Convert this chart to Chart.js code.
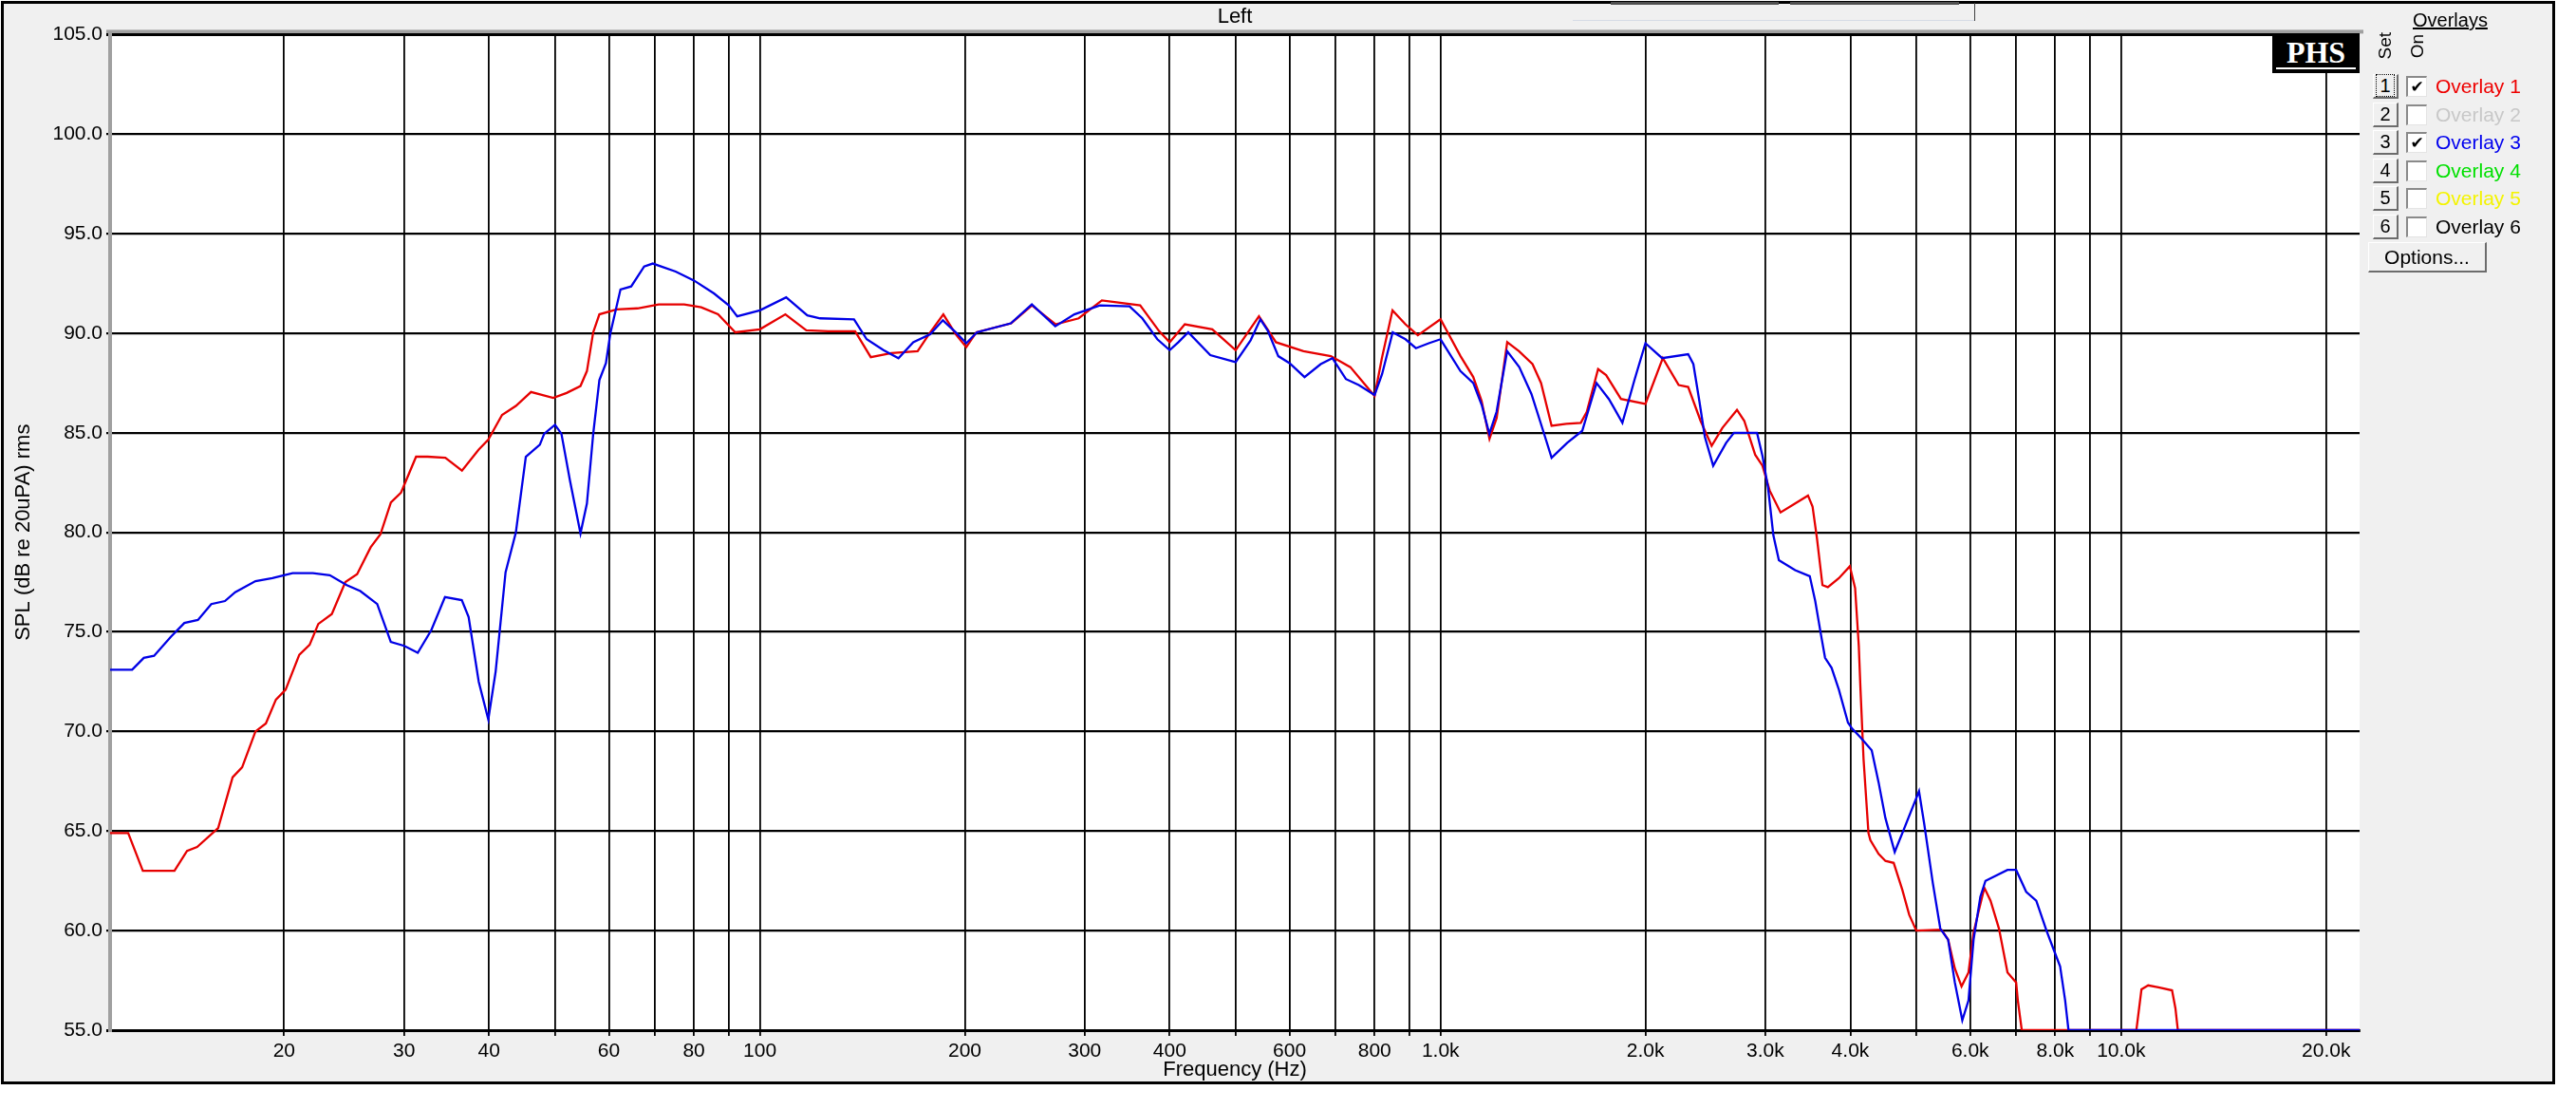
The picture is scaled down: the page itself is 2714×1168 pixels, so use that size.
<!DOCTYPE html>
<html>
<head>
<meta charset="utf-8">
<title>Left</title>
<script src="https://cdn.jsdelivr.net/npm/chart.js@4.4.1/dist/chart.umd.min.js"></script>
<style>
  html, body { margin: 0; padding: 0; background: #fff; }
  #wrap { position: relative; width: 2714px; height: 1168px; overflow: hidden;
          font-family: "Liberation Sans", Arial, sans-serif; }
  #splChart { position: absolute; left: 0; top: 0; }
  .abs { position: absolute; white-space: nowrap; }
  .btn { box-sizing: border-box; background: #f0f0f0; color: #000;
         border-top: 1px solid #fff; border-left: 1px solid #fff;
         border-right: 2px solid #6c6c6c; border-bottom: 2px solid #6c6c6c;
         text-align: center; }
  .chk { box-sizing: border-box; background: #fff; width: 22px; height: 22px;
         border-top: 2px solid #8a8a8a; border-left: 2px solid #8a8a8a;
         border-right: 1px solid #e4e4e4; border-bottom: 1px solid #e4e4e4;
         font: bold 17px "DejaVu Sans", sans-serif; line-height: 19px; text-align: center; }
  .vert { writing-mode: vertical-rl; transform: rotate(180deg); font-size: 19px; }
</style>
</head>
<body>
<div id="wrap">
  <canvas id="splChart" width="2714" height="1168"></canvas>

  <!-- bits of the window chrome at the top -->
  <div class="abs" style="left:1697px;top:2px;width:177px;height:3px;background:#505050"></div>
  <div class="abs" style="left:1886px;top:2px;width:178px;height:3px;background:#505050"></div>
  <div class="abs" style="left:1657px;top:21px;width:423px;height:1px;background:#d6dbe6"></div>
  <div class="abs" style="left:2080px;top:3px;width:1px;height:19px;background:#404040"></div>

  <div class="abs" style="left:2394px;top:37px;width:92px;height:40px;background:#000;color:#fff;
       font:bold 32px 'Liberation Serif','DejaVu Serif',serif;text-align:center;line-height:36px">PHS</div>
  <div class="abs" style="left:2398px;top:71px;width:84px;height:2px;background:#fff"></div>

  <div class="abs" style="left:2542px;top:10px;font-size:20px;text-decoration:underline">Overlays</div>
  <div class="abs vert" style="left:2502px;top:34px">Set</div>
  <div class="abs vert" style="left:2536px;top:36px">On</div>
  <div id="rows"></div>
  <div class="abs btn" style="left:2495px;top:255px;width:125px;height:32px;font-size:21px;line-height:29px">Options...</div>
</div>

<script>
// x axis (Hz)
var freqMin = 11.1;
var freqMax = 22400;
var xGridFreqs = [20, 30, 40, 50, 60, 70, 80, 90, 100, 200, 300, 400, 500, 600, 700, 800, 900,
                  1000, 2000, 3000, 4000, 5000, 6000, 7000, 8000, 9000, 10000, 20000];
var xLabelFreqs = [20, 30, 40, 60, 80, 100, 200, 300, 400, 600, 800, 1000, 2000, 3000, 4000, 6000, 8000, 10000, 20000];
var xLabelText = ['20', '30', '40', '60', '80', '100', '200', '300', '400', '600', '800',
                  '1.0k', '2.0k', '3.0k', '4.0k', '6.0k', '8.0k', '10.0k', '20.0k'];
// y axis (dB)
var yTicks = [55, 60, 65, 70, 75, 80, 85, 90, 95, 100, 105];

// Overlay 1 (red)
var freq1 = [11.1, 11.8, 12.4, 13.8, 14.4, 14.9, 16.0, 16.8, 17.35, 18.15, 18.8, 19.45, 20.1, 21.05, 21.8,
  22.45, 23.5, 24.6, 25.6, 26.8, 27.7, 28.7, 29.7, 31.25, 32.5, 34.5, 36.5, 38.6, 39.9, 41.8, 43.8, 46.1,
  49.7, 52.0, 54.5, 55.7, 56.9, 58.1, 61.6, 66.1, 71, 77.4, 82, 86.8, 92, 100, 109, 117, 126, 138, 145.5,
  156, 170.5, 178, 186, 194, 201, 208, 234, 251, 272, 294, 318, 362, 386, 400, 421, 462, 500, 541, 573,
  629, 690, 737, 800, 820, 850, 888, 926, 1000, 1070, 1117, 1149, 1180, 1209, 1253, 1304, 1365, 1405,
  1456, 1530, 1607, 1640, 1704, 1751, 1841, 2000, 2121, 2238, 2311, 2410, 2502, 2595, 2726, 2794, 2899,
  2971, 3045, 3159, 3319, 3466, 3520, 3573, 3640, 3707, 3848, 3993, 4065, 4116, 4140, 4183, 4253, 4280,
  4401, 4504, 4632, 4769, 4881, 5000, 5443, 5568, 5696, 5827, 5966, 6069, 6176, 6295, 6428, 6614, 6807,
  7009, 7049, 7144, 10527, 10710, 10957, 11344, 11877, 12014, 12112, 22400];
var spl1 = [64.9, 64.9, 63.0, 63.0, 64.0, 64.2, 65.15, 67.7, 68.2, 70.0, 70.4, 71.6, 72.1, 73.85, 74.35,
  75.4, 75.9, 77.5, 77.9, 79.25, 79.9, 81.5, 82.0, 83.8, 83.8, 83.75, 83.1, 84.15, 84.65, 85.9, 86.35, 87.05,
  86.75, 87.0, 87.35, 88.1, 90.05, 90.95, 91.2, 91.25, 91.45, 91.45, 91.3, 90.95, 90.05, 90.2, 90.95, 90.15, 90.1, 90.1, 88.8,
  89.0, 89.1, 90.05, 90.95, 89.95, 89.3, 90.05, 90.5, 91.4, 90.45, 90.75, 91.65, 91.4, 90.1, 89.55, 90.45, 90.2, 89.15, 90.85, 89.55,
  89.1, 88.85, 88.3, 86.85, 88.75, 91.15, 90.45, 89.9, 90.7, 88.85, 87.8, 86.6, 84.7, 85.75, 89.55, 89.1, 88.45, 87.5,
  85.35, 85.45, 85.5, 86.05, 88.2, 87.9, 86.7, 86.45, 88.75, 87.4, 87.3, 85.6, 84.35, 85.25, 86.15, 85.6, 83.9,
  83.35, 82.1, 81.0, 81.45, 81.85, 81.3, 79.7, 77.35, 77.25, 77.7, 78.3, 77.2, 74.3, 72.1, 68.6, 64.9, 64.55,
  63.85, 63.5, 63.4, 62.05, 60.8, 60.0, 60.05, 59.55, 58.1, 57.2, 57.9, 59.9, 61.0, 62.15, 61.5, 60.1, 57.9,
  57.4, 56.5, 55.0, 55.0, 57.05, 57.25, 57.15, 57.0, 56.1, 55.0, 55.0];

// Overlay 3 (blue)
var freq3 = [11.1, 11.96, 12.44, 12.88, 13.63, 14.27, 14.94, 15.63, 16.37, 16.95, 18.15, 19.22, 20.58, 22.04,
  23.34, 24.72, 25.88, 27.4, 28.69, 30.03, 31.43, 32.91, 34.46, 36.48, 37.33, 38.63, 39.9, 40.9, 42.3, 43.8,
  45.3, 47.5, 48.2, 50.0, 51.1, 52.6, 54.5, 55.7, 56.9, 58.1, 59.4, 60.3, 62.4, 64.7, 67.6, 69.6, 75.2, 80,
  85.6, 90, 92.6, 100, 109.3, 117.4, 122.6, 137.5, 143.5, 151.9, 159.8, 168, 177.9, 185.7, 193.9, 201, 208.4,
  233.7, 250.9, 271.6, 289.7, 315.8, 349.2, 364.6, 383.6, 400, 412, 425.9, 458.9, 500, 526, 543.6, 557,
  577.6, 600, 631.2, 666.6, 693.5, 726, 758.3, 800, 820.6, 850.5, 888, 920, 961, 1000, 1069.6, 1117, 1149.4,
  1179.5, 1208.6, 1252.6, 1305, 1360, 1415, 1456, 1535, 1615, 1695, 1767, 1795, 1850, 1927, 2000, 2116,
  2311, 2352, 2400, 2445, 2515, 2628, 2698, 2917, 2971, 3028, 3083, 3141, 3319, 3487, 3552, 3618, 3672,
  3754, 3848, 3968, 4023, 4141, 4300, 4401, 4504, 4648, 4796, 5046, 5139, 5287, 5423, 5568, 5696, 5842,
  5966, 6069, 6210, 6318, 6807, 7009, 7251, 7503, 7767, 7947, 8133, 8273, 8367, 22400];
var spl3 = [73.1, 73.1, 73.7, 73.8, 74.75, 75.45, 75.6, 76.4, 76.55, 77.0, 77.55, 77.7, 77.95, 77.95,
  77.85, 77.35, 77.05, 76.4, 74.5, 74.3, 73.95, 75.1, 76.75, 76.6, 75.75, 72.5, 70.6, 73.0, 78.0, 80.0,
  83.8, 84.4, 84.95, 85.4, 84.95, 82.6, 79.95, 81.45, 84.95, 87.65, 88.5, 90.0, 92.2, 92.35, 93.35, 93.5, 93.1, 92.65,
  92.0, 91.4, 90.85, 91.15, 91.8, 90.9, 90.75, 90.7, 89.7, 89.15, 88.75, 89.55, 89.95, 90.65, 90.05, 89.5, 90.05,
  90.5, 91.45, 90.35, 90.95, 91.4, 91.35, 90.75, 89.7, 89.15, 89.55, 90.05, 88.9, 88.55, 89.65, 90.7, 90.15,
  88.85, 88.5, 87.8, 88.45, 88.75, 87.7, 87.4, 86.9, 87.95, 90.05, 89.7, 89.25, 89.5, 89.7, 88.1, 87.5, 86.4,
  84.95, 86.05, 89.1, 88.3, 86.95, 85.1, 83.75, 84.5, 85.1, 87.5, 86.7, 86.3, 85.5, 87.65, 89.5, 88.75,
  88.95, 88.45, 86.6, 84.8, 83.35, 84.5, 85.0, 85.0, 83.85, 82.25, 79.85, 78.6, 78.1, 77.8, 76.55, 74.95, 73.7,
  73.2, 72.1, 70.45, 70.15, 69.7, 69.05, 67.45, 65.65, 63.95, 65.1, 67.0, 65.3, 62.4, 60.1, 59.55, 57.4, 55.5,
  56.5, 59.55, 61.7, 62.5, 63.05, 63.05, 61.95, 61.5, 60.0, 59.1, 58.2, 56.5, 55.0, 55.0];

// right-hand overlay panel
var overlayNames = ['Overlay 1', 'Overlay 2', 'Overlay 3', 'Overlay 4', 'Overlay 5', 'Overlay 6'];
var overlayColors = ['#ee0000', '#c8c8c8', '#0000ee', '#00e000', '#f4f400', '#000000'];
var overlayOn = [true, false, true, false, false, false];

function toPoints(xs, ys) {
    return xs.map(function (x, i) { return { x: x, y: ys[i] }; });
}

function buildPanel() {
    var rows = document.getElementById('rows');
    overlayNames.forEach(function (name, i) {
        var top = 78 + i * 29.5;
        var b = document.createElement('div');
        b.className = 'abs btn';
        b.style.cssText = 'left:2500px;top:' + top + 'px;width:27px;height:26px;font-size:20px;line-height:23px';
        if (i === 0) {
            b.innerHTML = '<span style="outline:1px dotted #000;padding:0 3px">' + (i + 1) + '</span>';
        } else {
            b.textContent = String(i + 1);
        }
        rows.appendChild(b);

        var c = document.createElement('div');
        c.className = 'abs chk';
        c.style.left = '2535px';
        c.style.top = (top + 2) + 'px';
        c.textContent = overlayOn[i] ? '\u2714' : '';
        rows.appendChild(c);

        var t = document.createElement('div');
        t.className = 'abs';
        t.style.cssText = 'left:2566px;top:' + (top + 1) + 'px;font-size:21px;color:' + overlayColors[i];
        t.textContent = name;
        rows.appendChild(t);
    });
}

// background, white plot area, frame
var framePlugin = {
    id: 'frame',
    beforeDraw: function (chart) {
        var c = chart.ctx, a = chart.chartArea;
        c.save();
        c.fillStyle = '#ffffff';
        c.fillRect(0, 0, chart.width, chart.height);
        c.fillStyle = '#f0f0f0';
        c.fillRect(2, 2, 2688, 1138);
        c.fillStyle = '#ffffff';
        c.fillRect(a.left, a.top, a.right - a.left, a.bottom - a.top);
        c.fillStyle = '#a0a0a0';
        c.fillRect(a.left - 4, a.top - 5, a.right - a.left + 8, 4);
        c.restore();
    },
    afterDraw: function (chart) {
        var c = chart.ctx;
        c.save();
        c.strokeStyle = '#000';
        c.lineWidth = 3;
        c.strokeRect(2.5, 2.5, 2688, 1138);
        c.restore();
    }
};

var tickFont = { family: '"Liberation Sans", Arial, sans-serif', size: 21 };
var titleFont = { family: '"Liberation Sans", Arial, sans-serif', size: 22 };

function initializeChart() {
    buildPanel();
    var ctx = document.getElementById('splChart').getContext('2d');
    new Chart(ctx, {
        type: 'line',
        data: {
            datasets: [{
                label: overlayNames[2],
                data: toPoints(freq3, spl3),
                borderColor: 'rgb(0, 0, 230)',
                borderWidth: 2.3,
                pointRadius: 0,
                tension: 0,
                order: 0
            }, {
                label: overlayNames[0],
                data: toPoints(freq1, spl1),
                borderColor: 'rgb(230, 0, 0)',
                borderWidth: 2.3,
                pointRadius: 0,
                tension: 0,
                order: 1
            }]
        },
        options: {
            responsive: false,
            animation: false,
            devicePixelRatio: 1,
            layout: { padding: { left: 0, top: 0, right: 228, bottom: 27 } },
            plugins: {
                legend: { display: false },
                tooltip: { enabled: false },
                title: {
                    display: true,
                    text: 'Left',
                    fullSize: false,
                    color: '#000',
                    font: { family: titleFont.family, size: 22, weight: 'normal' },
                    padding: { top: 5, bottom: 5 }
                }
            },
            scales: {
                x: {
                    type: 'logarithmic',
                    min: freqMin,
                    max: freqMax,
                    afterBuildTicks: function (s) {
                        s.ticks = xGridFreqs.map(function (v) { return { value: v }; });
                    },
                    afterFit: function (s) { s.height = 56; },
                    ticks: {
                        autoSkip: false,
                        maxRotation: 0,
                        padding: 4,
                        color: '#000',
                        font: tickFont,
                        callback: function (v) {
                            var k = xLabelFreqs.indexOf(v);
                            return k >= 0 ? xLabelText[k] : '';
                        }
                    },
                    grid: { color: '#000', lineWidth: 1.8, tickLength: 6 },
                    border: { color: '#000', width: 3 },
                    title: {
                        display: true,
                        text: 'Frequency (Hz)',
                        color: '#000',
                        font: titleFont,
                        padding: { top: 0, bottom: 1 }
                    }
                },
                y: {
                    min: 55,
                    max: 105,
                    afterBuildTicks: function (s) {
                        s.ticks = yTicks.map(function (v) { return { value: v }; });
                    },
                    afterFit: function (s) { s.width = 116; },
                    ticks: {
                        padding: 4,
                        color: '#000',
                        font: tickFont,
                        callback: function (v) { return Number(v).toFixed(1); }
                    },
                    grid: {
                        color: '#000',
                        tickLength: 4,
                        lineWidth: function (c) {
                            return (c.tick && (c.tick.value === 105 || c.tick.value === 55)) ? 3 : 2.2;
                        }
                    },
                    border: { color: '#a0a0a0', width: 4 },
                    title: {
                        display: true,
                        text: 'SPL (dB re 20uPA) rms',
                        color: '#000',
                        font: titleFont,
                        padding: { top: 12, bottom: 0 }
                    }
                }
            }
        },
        plugins: [framePlugin]
    });
}

window.addEventListener('DOMContentLoaded', initializeChart);
</script>
</body>
</html>
